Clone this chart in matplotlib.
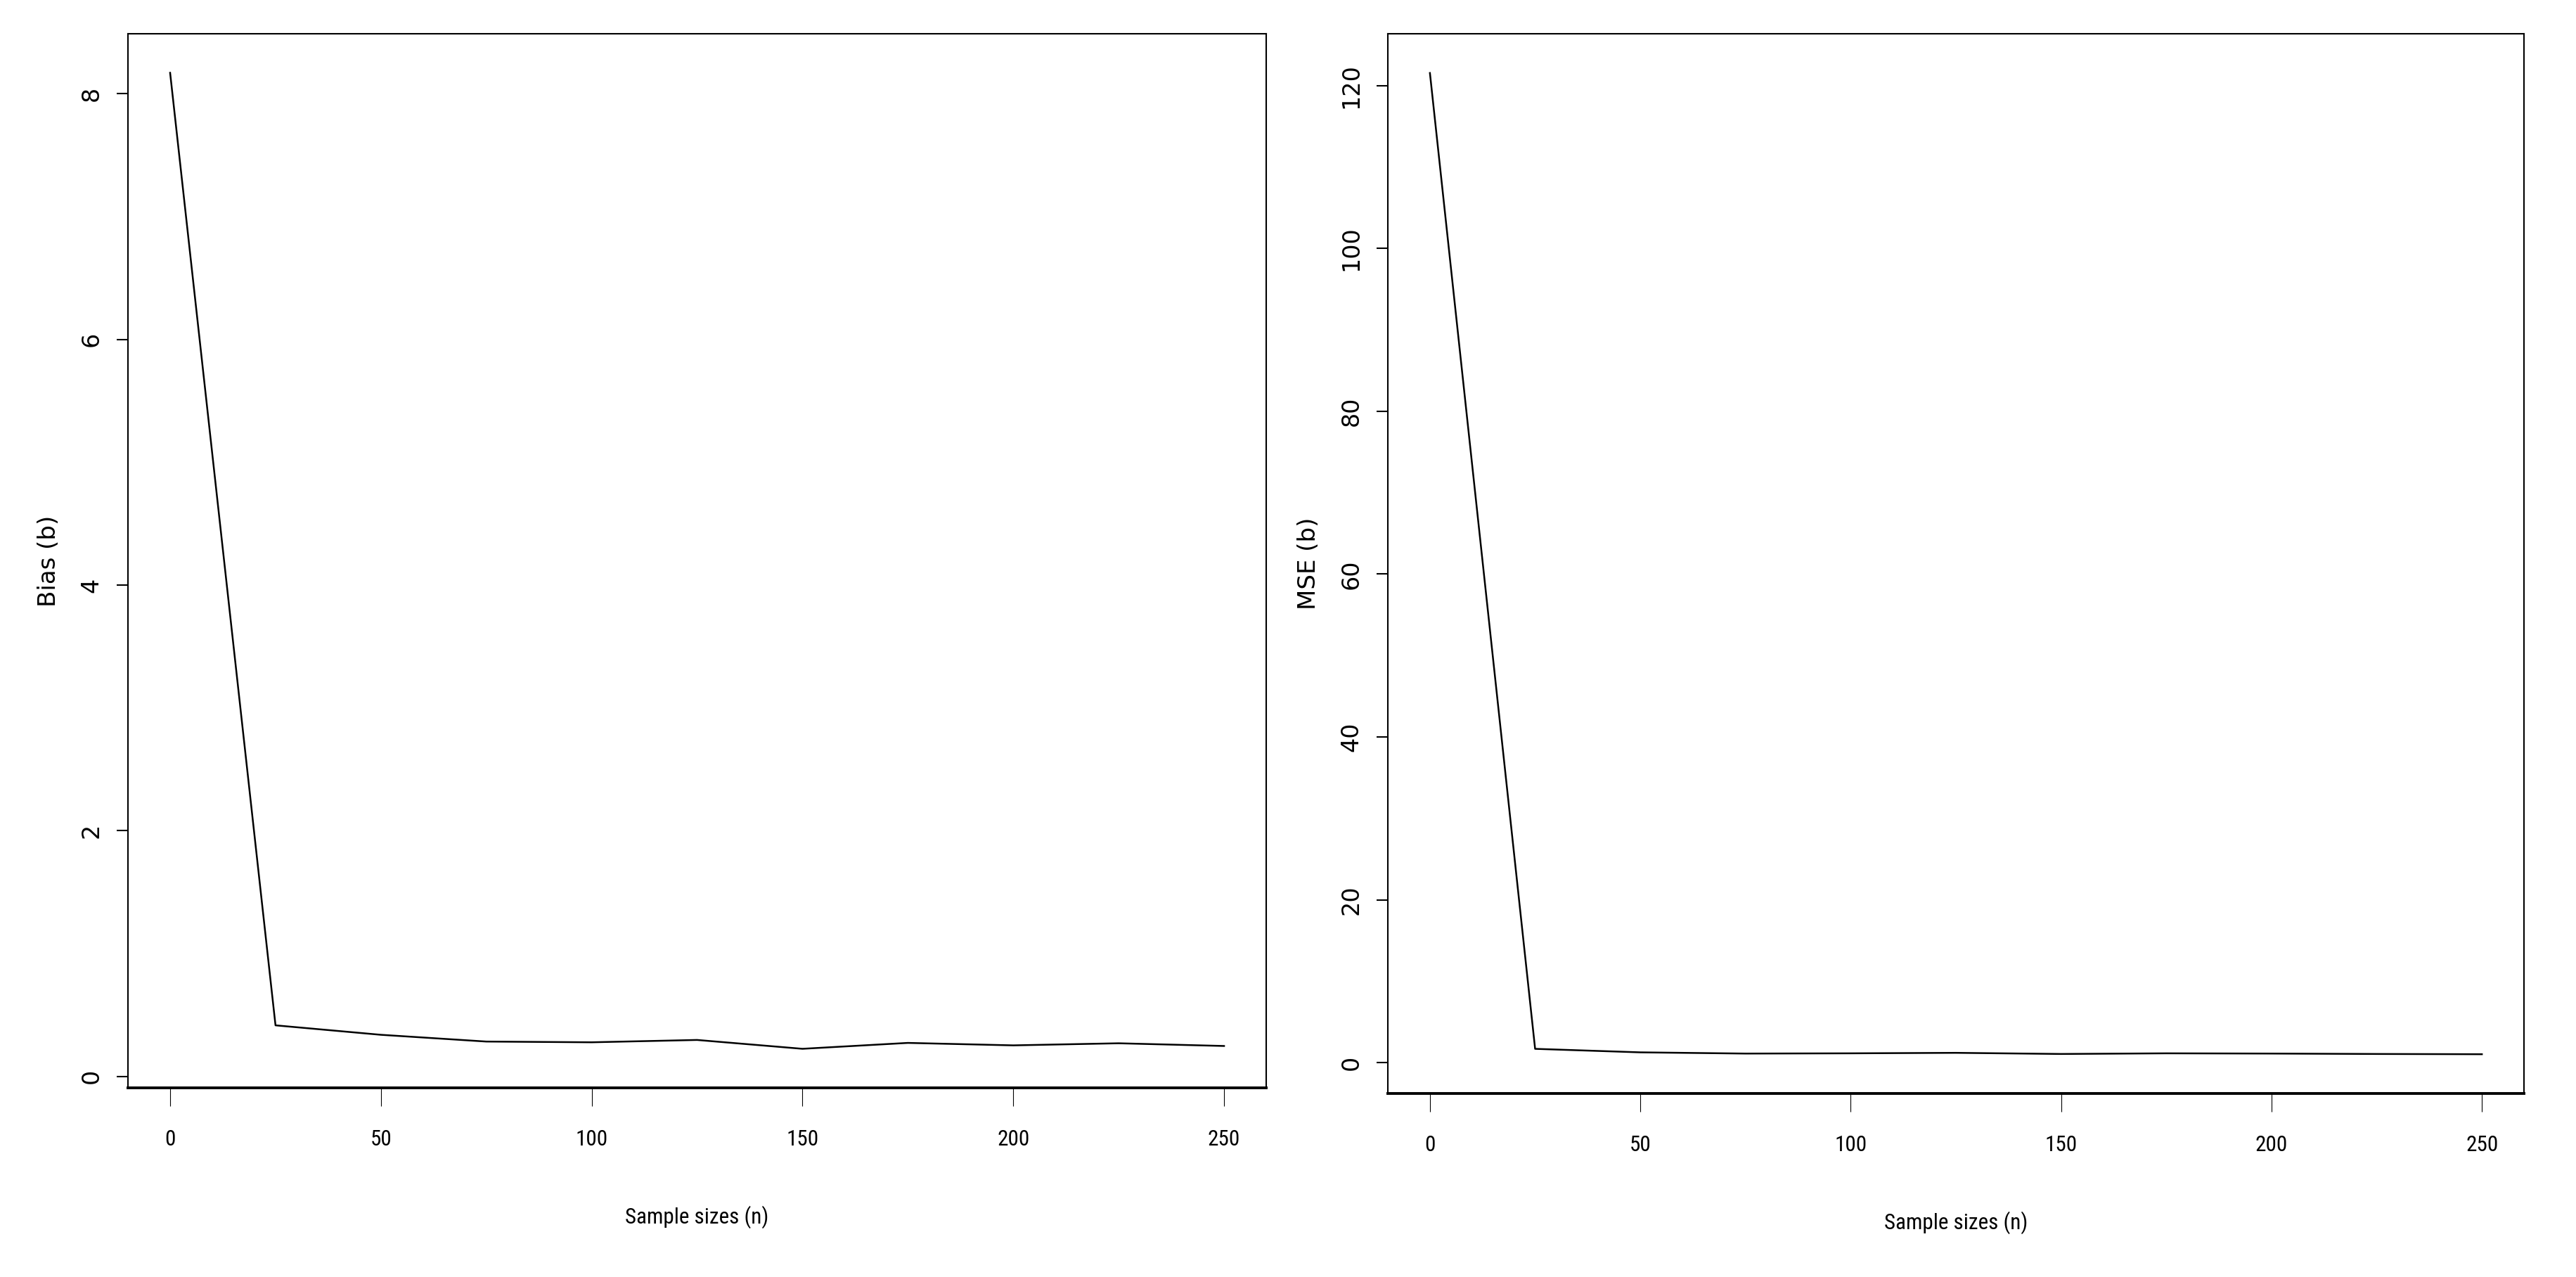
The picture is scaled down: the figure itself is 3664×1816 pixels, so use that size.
import matplotlib
matplotlib.use('Agg')
import matplotlib.pyplot as plt
from matplotlib import font_manager
from matplotlib.textpath import TextPath
from matplotlib.font_manager import FontProperties

n = [0, 25, 50, 75, 100, 125, 150, 175, 200, 225, 250]
bias = [8.17, 0.416, 0.339, 0.284, 0.278, 0.297, 0.225, 0.273, 0.253, 0.270, 0.248]
mse = [121.55, 1.70, 1.27, 1.12, 1.15, 1.21, 1.07, 1.15, 1.12, 1.07, 1.04]

xticks = [0, 50, 100, 150, 200, 250]
bias_ticks = [0, 2, 4, 6, 8]
mse_ticks = [0, 20, 40, 60, 80, 100, 120]

W, H = 3664, 1816
fig = plt.figure(figsize=(W / 100, H / 100), dpi=100)

# the x-axis text in the original is tall and narrow; use a condensed face if one exists
names = {f.name for f in font_manager.fontManager.ttflist}
narrow = 'Liberation Sans'
for cand in ['Liberation Sans Narrow', 'Roboto Condensed', 'Open Sans Condensed',
             'DejaVu Sans Condensed', 'Noto Sans Condensed']:
    if cand in names:
        narrow = cand
        break
else:
    for nm in sorted(names):
        if 'Condensed' in nm or 'Narrow' in nm:
            narrow = nm
            break

# size the x text so "Sample sizes (n)" is ~201 px wide (at 100 dpi, 1pt = 100/72 px)
w_em = TextPath((0, 0), 'Sample sizes (n)', size=1, prop=FontProperties(family=narrow)).get_extents().width
xsize = min(201 / w_em * 0.72, 30)


def r_style(ax, x, y, yticks, ylab, box):
    left, top, right, bottom = box
    ax.set_position([left / W, 1 - bottom / H, (right - left) / W, (bottom - top) / H])
    ax.plot(x, y, color='black', lw=1.8)
    # R default: 4% padding on each side
    xr = max(x) - min(x)
    yr = max(y) - min(y)
    ax.set_xlim(min(x) - 0.04 * xr, max(x) + 0.04 * xr)
    ax.set_ylim(min(y) - 0.04 * yr, max(y) + 0.04 * yr)
    for s in ax.spines.values():
        s.set_linewidth(1.5)
    ax.spines['bottom'].set_linewidth(2.8)
    ax.set_xticks(xticks)
    ax.set_yticks(yticks)
    ax.tick_params(axis='x', length=18.7, width=0.8, pad=24)
    ax.tick_params(axis='y', length=11.5, width=1.5, pad=14)
    for lab in ax.get_xticklabels():
        lab.set_family(narrow)
        lab.set_fontsize(xsize)
    for lab in ax.get_yticklabels():
        lab.set_family('DejaVu Sans')
        lab.set_fontsize(24)
        lab.set_rotation(90)
        lab.set_va('center')
    ax.set_xlabel('Sample sizes (n)', family=narrow, fontsize=xsize)
    ax.xaxis.set_label_coords(0.5, -(182 - 15) / (bottom - top))
    ax.set_ylabel(ylab, family='DejaVu Sans', fontsize=24.5)
    ax.yaxis.set_label_coords((86 - left) / (right - left) if left < 1000 else (1878 - left) / (right - left), 0.5)


ax1 = fig.add_subplot(1, 2, 1)
r_style(ax1, n, bias, bias_ticks, 'Bias (b)', (182, 48, 1801, 1547))

ax2 = fig.add_subplot(1, 2, 2)
r_style(ax2, n, mse, mse_ticks, 'MSE (b)', (1974, 48, 3590, 1555))

fig.savefig('out.png', dpi=100)
